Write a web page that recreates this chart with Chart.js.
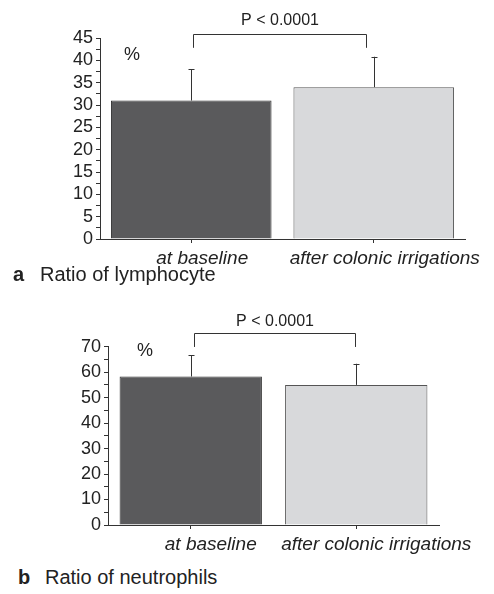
<!DOCTYPE html>
<html>
<head>
<meta charset="utf-8">
<script src="https://cdn.jsdelivr.net/npm/chart.js@4/dist/chart.umd.min.js"></script>
<style>
  body { margin: 0; background: #fff; font-family: "Liberation Sans", Arial, sans-serif; color: #222; }
  #wrap { position: relative; width: 494px; height: 594px; overflow: hidden; }
  canvas { position: absolute; left: 0; }
  .cap { position: absolute; font-size: 20px; line-height: 20px; white-space: nowrap; }
  .cap b { display: inline-block; width: 27px; }
</style>
</head>
<body>
<div id="wrap">
  <canvas id="graphA" width="494" height="300" style="top:0px"></canvas>
  <div class="cap" style="left:13px; top:264px"><b>a</b>Ratio of lymphocyte</div>
  <canvas id="graphB" width="494" height="260" style="top:300px"></canvas>
  <div class="cap" style="left:18px; top:567px"><b>b</b>Ratio of neutrophils</div>
</div>
<script>
//共通データ
var labels = ['at baseline', 'after colonic irrigations'];
var lymphMean = [31.0, 34.0];
var lymphErr = [7.0, 6.8];
var neutroMean = [58.3, 55.0];
var neutroErr = [8.4, 8.3];
var pText = 'P < 0.0001';

var barColors = ['#5a5a5c', '#d8d9db'];
var barBorders = ['#333333', '#555555'];

//エラーバーと有意差の括弧
var extras = {
  id: 'extras',
  afterDatasetsDraw: function(chart, args, opts) {
    var ctx = chart.ctx;
    var y = chart.scales.y;
    var x = chart.scales.x;
    var meta = chart.getDatasetMeta(0);
    ctx.save();
    ctx.strokeStyle = '#333';
    ctx.lineWidth = 1;
    for (let i = 0; i < meta.data.length; i++) {
      var bar = meta.data[i];
      var top = y.getPixelForValue(opts.means[i] + opts.errs[i]);
      var bx = Math.round(bar.x) + 0.5;
      ctx.beginPath();
      ctx.moveTo(bx, bar.y);
      ctx.lineTo(bx, top);
      ctx.moveTo(bx - 3, Math.round(top) + 0.5);
      ctx.lineTo(bx + 3, Math.round(top) + 0.5);
      ctx.stroke();
    }
    //括弧
    var x1 = Math.round(x.getPixelForValue(0) + opts.dx1) + 0.5;
    var x2 = Math.round(x.getPixelForValue(1) + opts.dx2) + 0.5;
    var by = Math.round(y.getPixelForValue(opts.bracketY)) + 0.5;
    var ly = y.getPixelForValue(opts.legY);
    ctx.beginPath();
    ctx.moveTo(x1, ly);
    ctx.lineTo(x1, by);
    ctx.lineTo(x2, by);
    ctx.lineTo(x2, ly);
    ctx.stroke();
    ctx.fillStyle = '#222';
    ctx.font = '16px "Liberation Sans", Arial, sans-serif';
    ctx.textAlign = 'center';
    ctx.textBaseline = 'middle';
    ctx.fillText(pText, (x1 + x2) / 2, y.getPixelForValue(opts.textY));
    ctx.font = '18px "Liberation Sans", Arial, sans-serif';
    ctx.fillText('%', chart.chartArea.left + opts.pctX, y.getPixelForValue(opts.pctY));
    ctx.restore();
  }
};

function makeChart(id, means, errs, ymax, step, major, yWidth, chartTop, chartBottom, labelOffset, barPct, extraOpts) {
  var canvas = document.getElementById(id);
  var ctx = canvas.getContext('2d');
  return new Chart(ctx, {
    type: 'bar',
    data: {
      labels: labels,
      datasets: [{
        data: means,
        backgroundColor: barColors,
        borderColor: barBorders,
        borderWidth: 1,
        borderSkipped: 'bottom',
        barPercentage: barPct,
        categoryPercentage: 1.0
      }]
    },
    options: {
      responsive: false,
      animation: false,
      layout: {
        padding: { left: 0, right: extraOpts.padRight, top: chartTop, bottom: canvas.height - chartBottom - 30 }
      },
      plugins: {
        legend: { display: false },
        tooltip: { enabled: false },
        extras: extraOpts
      },
      scales: {
        x: {
          afterFit: function(scale) { scale.height = 30; },
          grid: { drawOnChartArea: false, offset: false, color: '#333', tickLength: 4 },
          border: { color: '#333', width: 1 },
          ticks: {
            color: '#222',
            padding: 4,
            labelOffset: labelOffset,
            maxRotation: 0,
            autoSkip: false,
            font: { family: '"Liberation Sans", Arial, sans-serif', size: 19, style: 'italic' }
          }
        },
        y: {
          min: 0,
          max: ymax,
          afterFit: function(scale) { scale.width = yWidth; },
          grid: { drawOnChartArea: false, color: '#333', tickLength: 4 },
          border: { color: '#333', width: 1 },
          ticks: {
            stepSize: step,
            autoSkip: false,
            color: '#222',
            padding: 3,
            font: { family: '"Liberation Sans", Arial, sans-serif', size: 18 },
            callback: function(v) { return v % major === 0 ? String(v) : ''; }
          }
        }
      }
    },
    plugins: [extras]
  });
}

document.addEventListener('DOMContentLoaded', function() {
  Chart.defaults.color = '#222';
  makeChart('graphA', lymphMean, lymphErr, 45, 2.5, 5, 100, 38, 239, 11, 0.88, {
    means: lymphMean, errs: lymphErr, padRight: 29,
    dx1: 2, dx2: -8, bracketY: 45.9, legY: 42.8, textY: 49.0, pctX: 32, pctY: 41.2
  });
  makeChart('graphB', neutroMean, neutroErr, 70, 5, 10, 108, 46.7, 225, 20, 0.86, {
    means: neutroMean, errs: neutroErr, padRight: 55,
    dx1: 3, dx2: -1, bracketY: 75.4, legY: 69.9, textY: 80.0, pctX: 37, pctY: 68.4
  });
});
</script>
</body>
</html>
